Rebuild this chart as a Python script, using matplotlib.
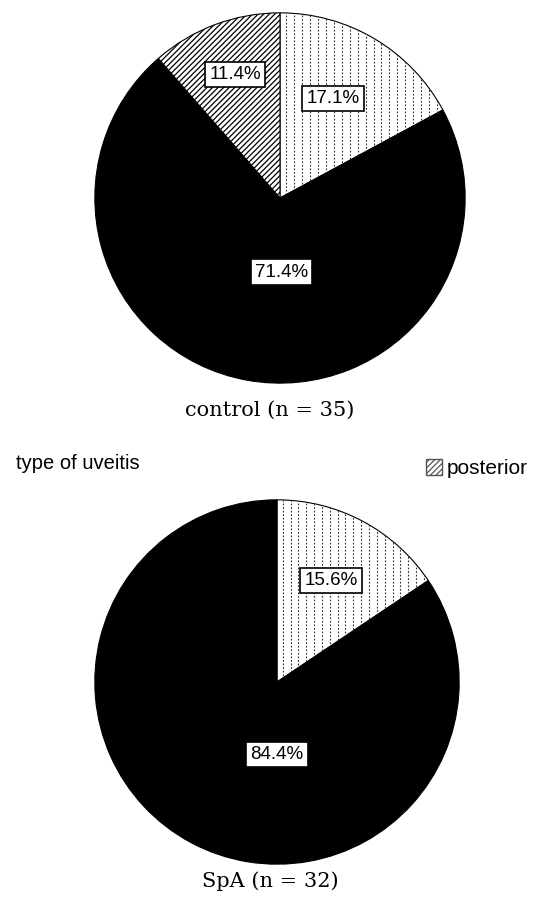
import numpy as np
import matplotlib.pyplot as plt
from matplotlib.patches import Rectangle

# data: share of each uveitis type, clockwise from 12 o'clock
control_types = ['anterior', 'other', 'posterior']
control_pct = [17.1, 71.4, 11.4]
spa_types = ['anterior', 'other']
spa_pct = [15.6, 84.4]

styles = {'anterior': ('white', 'dots'), 'other': ('black', None), 'posterior': ('white', '//////')}

plt.rcParams['hatch.linewidth'] = 0.9

W, H = 540, 901
fig = plt.figure(figsize=(W / 100, H / 100), dpi=100)


def draw_pie(ax, types, pct, label_dist, caption, cap_y):
    cols = [styles[t][0] for t in types]
    wedges, _ = ax.pie(pct, colors=cols, startangle=90, counterclock=False,
                       wedgeprops=dict(edgecolor='black', linewidth=0.8))
    ax.set_xlim(-1.01, 1.01)
    ax.set_ylim(-1.01, 1.01)
    for w, t in zip(wedges, types):
        h = styles[t][1]
        if h == 'dots':
            # vertical dotted lines clipped to the wedge
            for x in np.arange(-1, 1, 0.043):
                ln, = ax.plot([x, x], [-1, 1], color='#333333', lw=0.8,
                              ls=(0, (1.6, 1.6)), zorder=1.5)
                ln.set_clip_path(w)
        elif h:
            w.set_hatch(h)
    # percentage labels
    for w, p, d in zip(wedges, pct, label_dist):
        r, ang = d
        x, y = r * np.cos(np.radians(ang)), r * np.sin(np.radians(ang))
        ax.text(x, y, f'{p:.1f}%', ha='center', va='center', fontsize=13.5,
                family='Liberation Sans', zorder=5,
                bbox=dict(boxstyle='square,pad=0.22', fc='white', ec='black', lw=1.2))
    fig.text(0.5, cap_y, caption, ha='center', va='center',
             family='DejaVu Serif', fontsize=15)


# top pie: centre (280,198), r 187
ax1 = fig.add_axes([93 / W, (H - 385) / H, 374 / W, 374 / H])
draw_pie(ax1, control_types, control_pct,
         [(0.61, 62), (0.40, -89), (0.71, 110)],
         'control (n = 35)', 1 - 410 / H)

# bottom pie: centre (277,682), r 184
ax2 = fig.add_axes([93 / W, (H - 866) / H, 368 / W, 368 / H])
draw_pie(ax2, spa_types, spa_pct,
         [(0.63, 62), (0.40, -90)],
         'SpA (n = 32)', 1 - 881 / H)

fig.text(16 / W, 1 - 463 / H, 'type of uveitis', ha='left', va='center',
         family='Liberation Sans', fontsize=14.5)

# legend (only posterior visible)
lax = fig.add_axes([0, 0, 1, 1], facecolor='none')
lax.set_axis_off()
lax.set_xlim(0, W)
lax.set_ylim(H, 0)
lax.add_patch(Rectangle((426, 459), 16, 16, fc='white', ec='#555555', lw=1.0, hatch='//////'))
lax.text(447, 468, 'posterior', ha='left', va='center', family='Liberation Sans', fontsize=15)

fig.savefig('out.png', dpi=100)
